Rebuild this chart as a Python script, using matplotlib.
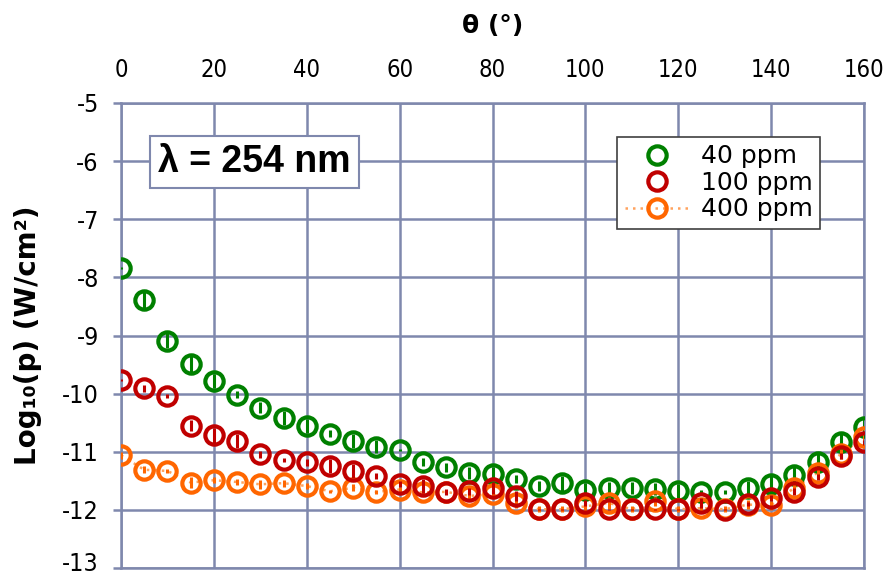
import matplotlib
matplotlib.use("Agg")
import matplotlib.pyplot as plt
from matplotlib.lines import Line2D
from matplotlib.transforms import ScaledTranslation

# ---- data -------------------------------------------------------------
theta = [0, 5, 10, 15, 20, 25, 30, 35, 40, 45, 50, 55, 60, 65, 70, 75, 80,
         85, 90, 95, 100, 105, 110, 115, 120, 125, 130, 135, 140, 145, 150,
         155, 160]

p_40 = [-7.84, -8.39, -9.09, -9.49, -9.79, -10.02, -10.24, -10.42, -10.55,
        -10.69, -10.82, -10.91, -10.97, -11.18, -11.27, -11.37, -11.39,
        -11.47, -11.59, -11.54, -11.66, -11.62, -11.62, -11.64, -11.68,
        -11.69, -11.69, -11.63, -11.56, -11.40, -11.18, -10.84, -10.58]
err_40 = [0.02, 0.13, 0.13, 0.13, 0.12, 0.06, 0.10, 0.12, 0.12, 0.06, 0.12,
          0.12, 0.02, 0.07, 0.07, 0.10, 0.12, 0.07, 0.08, 0.13, 0.12, 0.10,
          0.10, 0.10, 0.12, 0.03, 0.03, 0.12, 0.15, 0.15, 0.15, 0.15, 0.15]

p_100 = [-9.77, -9.91, -10.04, -10.55, -10.72, -10.81, -11.04, -11.14,
         -11.18, -11.24, -11.33, -11.42, -11.56, -11.59, -11.69, -11.68,
         -11.62, -11.76, -11.99, -11.99, -11.88, -11.99, -11.99, -11.99,
         -11.99, -11.88, -12.00, -11.90, -11.80, -11.69, -11.43, -11.07,
         -10.84]
err_100 = [0.02, 0.06, 0.03, 0.10, 0.13, 0.12, 0.06, 0.04, 0.06, 0.12, 0.12,
           0.05, 0.05, 0.12, 0.05, 0.06, 0.10, 0.08, 0.01, 0.01, 0.05, 0.01,
           0.01, 0.01, 0.01, 0.08, 0.01, 0.03, 0.05, 0.06, 0.05, 0.05, 0.05]

p_400 = [-11.06, -11.31, -11.33, -11.53, -11.49, -11.52, -11.56, -11.54,
         -11.59, -11.68, -11.62, -11.69, -11.65, -11.70, -11.69, -11.76,
         -11.73, -11.88, -11.99, -11.99, -11.94, -11.88, -11.99, -11.85,
         -11.99, -11.97, -11.99, -11.91, -11.92, -11.62, -11.36, -11.04,
         -10.75]
err_400 = [0.06, 0.06, 0.04, 0.10, 0.05, 0.05, 0.08, 0.06, 0.05, 0.03, 0.06,
           0.04, 0.04, 0.06, 0.04, 0.06, 0.06, 0.08, 0.05, 0.05, 0.08, 0.10,
           0.05, 0.08, 0.05, 0.05, 0.05, 0.08, 0.08, 0.08, 0.08, 0.08, 0.08]

labels = ["40 ppm", "100 ppm", "400 ppm"]
x_ticks = [0, 20, 40, 60, 80, 100, 120, 140, 160]
y_ticks = [-13, -12, -11, -10, -9, -8, -7, -6, -5]

# ---- style ------------------------------------------------------------
GREEN = "#008000"
RED = "#c00000"
ORANGE = "#ff6600"
ORANGE_LIGHT = "#ffa35e"
GRID = "#7f88ad"

plt.rcParams["axes.unicode_minus"] = False
plt.rcParams["font.family"] = ["DejaVu Sans"]

fig = plt.figure(figsize=(8.83, 5.77), dpi=100)
ax = fig.add_axes([121 / 883, 9 / 577, 743 / 883, 465 / 577])

ms = 13.2
mew = 3.0

ax.errorbar(theta, p_40, yerr=err_40, fmt="o", ms=ms, mfc="none",
            mec=GREEN, mew=mew, ecolor=GREEN, elinewidth=2.2, capsize=0,
            zorder=3)
ax.plot(theta, p_400, ls=(0, (1, 2.0)), lw=1.8, color=ORANGE_LIGHT, zorder=3)
ax.errorbar(theta, p_400, yerr=err_400, fmt="o", ms=ms, mfc="none",
            mec=ORANGE, mew=mew, ecolor=ORANGE, elinewidth=2.2, capsize=0,
            zorder=4)
ax.errorbar(theta, p_100, yerr=err_100, fmt="o", ms=ms, mfc="none",
            mec=RED, mew=mew, ecolor=RED, elinewidth=2.2, capsize=0,
            zorder=5)

ax.set_xlim(0, 160)
ax.set_ylim(-13, -5)
ax.set_xticks(x_ticks)
ax.set_yticks(y_ticks)
ax.xaxis.tick_top()
ax.xaxis.set_label_position("top")
ax.grid(True, color=GRID, lw=1.8, zorder=0)
ax.set_axisbelow(True)
for s in ax.spines.values():
    s.set_color(GRID)
    s.set_linewidth(1.8)

ax.tick_params(axis="x", length=0, pad=15, labelsize=17, labelcolor="black")
ax.tick_params(axis="y", length=6, width=1.8, color=GRID, pad=10,
               labelsize=18, labelcolor="black")
for lab in ax.get_xticklabels() + ax.get_yticklabels():
    lab.set_fontstretch("condensed")

# keep the lowest y label inside the canvas
lowest = ax.get_yticklabels()[0]
lowest.set_transform(lowest.get_transform()
                     + ScaledTranslation(0, 5 / 72, fig.dpi_scale_trans))

ax.set_xlabel("θ (°)", fontsize=18, fontweight="bold", labelpad=18)
ax.set_ylabel("Log₁₀(p) (W/cm²)", fontsize=20, fontweight="bold",
              labelpad=14)

ax.text(0.050, 0.873, "λ = 254 nm", transform=ax.transAxes, fontsize=27,
        fontweight="bold", family=["Liberation Sans", "DejaVu Sans"],
        va="center", ha="left",
        bbox=dict(boxstyle="square,pad=0.22", fc="white", ec=GRID, lw=1.5),
        zorder=6)

handles = [
    Line2D([], [], ls="none", marker="o", ms=ms, mfc="none", mec=GREEN,
           mew=mew),
    Line2D([], [], ls="none", marker="o", ms=ms, mfc="none", mec=RED,
           mew=mew),
    Line2D([], [], ls=(0, (1, 2.0)), lw=1.8, color=ORANGE_LIGHT, marker="o",
           ms=ms, mfc="none", mec=ORANGE, mew=mew),
]
leg = ax.legend(handles, labels, loc="upper left",
                bbox_to_anchor=(0.6676, 0.927), borderaxespad=0,
                prop={"size": 18}, frameon=True, fancybox=False,
                edgecolor="#404040", framealpha=1, handlelength=2.6,
                handletextpad=0.45, labelspacing=0.1, borderpad=0.3)
leg.get_frame().set_linewidth(1.2)
leg.set_zorder(7)

fig.savefig("out.png", dpi=100)
